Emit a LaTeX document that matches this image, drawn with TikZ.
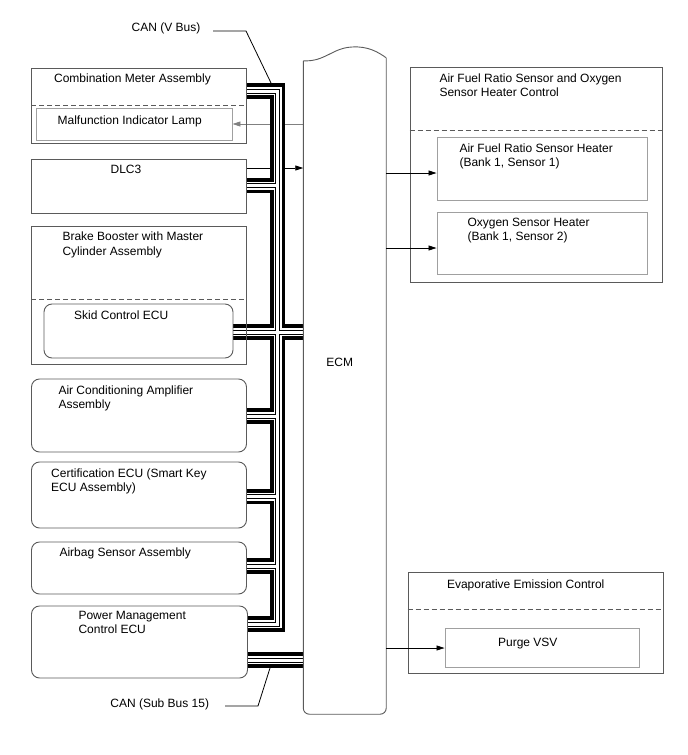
\documentclass[tikz,border=0pt]{standalone}
\usepackage{fontspec}
\setmainfont{Liberation Sans}
\usetikzlibrary{positioning,arrows.meta,calc,backgrounds}
\definecolor{boxgray}{HTML}{5A5A5A}
\definecolor{subgray}{HTML}{A0A0A0}
\tikzset{
  box/.style={rectangle,draw=boxgray,line width=0.9pt,inner sep=0pt},
  rbox/.style={box,rounded corners=8pt},
  sub/.style={rectangle,draw=subgray,line width=0.9pt,inner sep=0pt},
  sep/.style={draw=boxgray,line width=0.9pt,dash pattern=on 5pt off 3pt},
  txt/.style={font=\fontsize{12pt}{14pt}\selectfont,inner sep=0pt,align=left},
  sig/.style={-{Triangle[length=8pt,width=5pt]},line width=0.7pt},
  lead/.style={line width=0.8pt},
  ecmline/.style={draw=boxgray,line width=0.9pt},
  busA/.style={line width=15.5pt,black},
  busB/.style={line width=8pt,white},
  busC/.style={line width=5pt,black},
  busD/.style={line width=3pt,white},
}
\begin{document}
\begin{tikzpicture}[x=1pt,y=-1pt]
  \useasboundingbox (0,0) rectangle (688,755);

  % left column
  \node[box,minimum width=215pt,minimum height=75pt] (cm) at (139,105.5) {};
  \node[sub,minimum width=196pt,minimum height=32pt] (mil) at (134,124) {};
  \draw[sep] (cm.west |- 0,105) -- (cm.east |- 0,105);
  \node[txt,anchor=base] (cmt) at (132.5,82.7) {Combination Meter Assembly};
  \node[txt,anchor=base] (milt) at (129.7,124) {Malfunction Indicator Lamp};

  \node[box,minimum width=215pt,minimum height=54pt] (dlc) at (139,186) {};
  \node[txt,anchor=base] (dlct) at (126,173.3) {DLC3};

  \node[box,minimum width=215pt,minimum height=138pt] (bb) at (139,295) {};
  \draw[sep] (bb.west |- 0,299) -- (bb.east |- 0,299);
  \node[rbox,minimum width=189pt,minimum height=54pt] (skid) at (138.5,331) {};
  \node[txt,anchor=base west] (bbt) at (62.3,240.7) {Brake Booster with Master};
  \node[txt,anchor=base west] (bbt2) at (62.3,255) {Cylinder Assembly};
  \node[txt,anchor=base west] (skidt) at (74,319.3) {Skid Control ECU};

  \node[rbox,minimum width=215pt,minimum height=73pt] (ac) at (139,415.5) {};
  \node[txt,anchor=base west] (act) at (58.3,394) {Air Conditioning Amplifier};
  \node[txt,anchor=base west] (act2) at (58.3,408.3) {Assembly};

  \node[rbox,minimum width=215pt,minimum height=66pt] (cert) at (139,495) {};
  \node[txt,anchor=base west] (certt) at (51,477.3) {Certification ECU (Smart Key};
  \node[txt,anchor=base west] (certt2) at (51,491.5) {ECU Assembly)};

  \node[rbox,minimum width=215pt,minimum height=52pt] (air) at (139,568) {};
  \node[txt,anchor=base west] (airt) at (59.3,556) {Airbag Sensor Assembly};

  \node[rbox,minimum width=216pt,minimum height=72pt] (pm) at (139.5,642) {};
  \node[txt,anchor=base west] (pmt) at (78.3,619) {Power Management};
  \node[txt,anchor=base west] (pmt2) at (78.3,633.3) {Control ECU};

  % ECM
  \node[inner sep=0pt,minimum width=82.5pt,minimum height=653pt] (ecm) at (344.75,387.5) {};
  \draw[ecmline,rounded corners=6pt] (ecm.north west) -- (ecm.south west) -- (ecm.south east) -- ($(ecm.north east)+(0,-3)$);
  \draw[ecmline] (ecm.north west) .. controls (325,62) and (332,48) .. (352,47)
    .. controls (368,46) and (378,52) .. ($(ecm.north east)+(0,-3)$);
  \node[txt,anchor=base] (ecmt) at (339.7,366) {ECM};

  % right column
  \node[box,minimum width=252pt,minimum height=215pt] (afr) at (536,174.5) {};
  \draw[sep] (afr.west |- 0,130) -- (afr.east |- 0,130);
  \node[txt,anchor=base west] (afrt) at (439.3,82.3) {Air Fuel Ratio Sensor and Oxygen};
  \node[txt,anchor=base west] (afrt2) at (439.3,96.5) {Sensor Heater Control};
  \node[sub,minimum width=210pt,minimum height=63pt] (afh) at (542,168.5) {};
  \node[txt,anchor=base west] (afht) at (459.3,152) {Air Fuel Ratio Sensor Heater};
  \node[txt,anchor=base west] (afht2) at (459.3,166.2) {(Bank 1, Sensor 1)};
  \node[sub,minimum width=210pt,minimum height=62pt] (oxh) at (542,243) {};
  \node[txt,anchor=base west] (oxht) at (467.3,226.7) {Oxygen Sensor Heater};
  \node[txt,anchor=base west] (oxht2) at (467.3,240.9) {(Bank 1, Sensor 2)};

  \node[box,minimum width=255pt,minimum height=101pt] (evap) at (535.5,622.5) {};
  \draw[sep] (evap.west |- 0,609) -- (evap.east |- 0,609);
  \node[txt,anchor=base] (evapt) at (525.7,588.3) {Evaporative Emission Control};
  \node[sub,minimum width=194pt,minimum height=39pt] (vsv) at (542,647.5) {};
  \node[txt,anchor=base] (vsvt) at (527.8,646) {Purge VSV};

  \draw[sig] (ecm.east |- 0,173) -- (afh.west |- 0,173);
  \draw[sig] (ecm.east |- 0,248) -- (oxh.west |- 0,248);
  \draw[sig] (ecm.east |- 0,648) -- (vsv.west |- 0,648);

  % CAN labels
  \node[txt,anchor=base] (canv) at (166,31.5) {CAN (V Bus)};
  \coordinate (vknee) at (246,31);
  \coordinate (vtip) at (271.5,84);
  \draw[lead] (213,31) -- (vknee) -- (vtip);
  \node[txt,anchor=base] (cans) at (159.7,707.3) {CAN (Sub Bus 15)};
  \coordinate (sknee) at (258,706);
  \coordinate (stip) at (270,668);
  \draw[lead] (225,706) -- (sknee) -- (stip);

  % signal lines under the bus, then the bus
  \coordinate (bustop) at (277.5,91);
  \coordinate (busbot) at (277.5,624);
  \begin{scope}[on background layer]
    \draw[sig,draw=gray] (ecm.west |- mil.east) -- (mil.east);
    \draw[sig] (dlc.east |- 0,168) -- (ecm.west |- 0,168);
    \foreach \lay in {busA,busB,busC,busD}
      \draw[\lay] (cm.east |- bustop) -- (bustop) -- (busbot) -- (pm.east |- busbot)
        \foreach \yy/\bx in {185.5/dlc,416/ac,496.5/cert,566/air} {(\bx.east |- 0,\yy) -- (bustop |- 0,\yy)}
        (skid.east |- 0,332) -- (ecm.west |- 0,332)
        (pm.east |- 0,660) -- (ecm.west |- 0,660);
  \end{scope}
\end{tikzpicture}
\end{document}
